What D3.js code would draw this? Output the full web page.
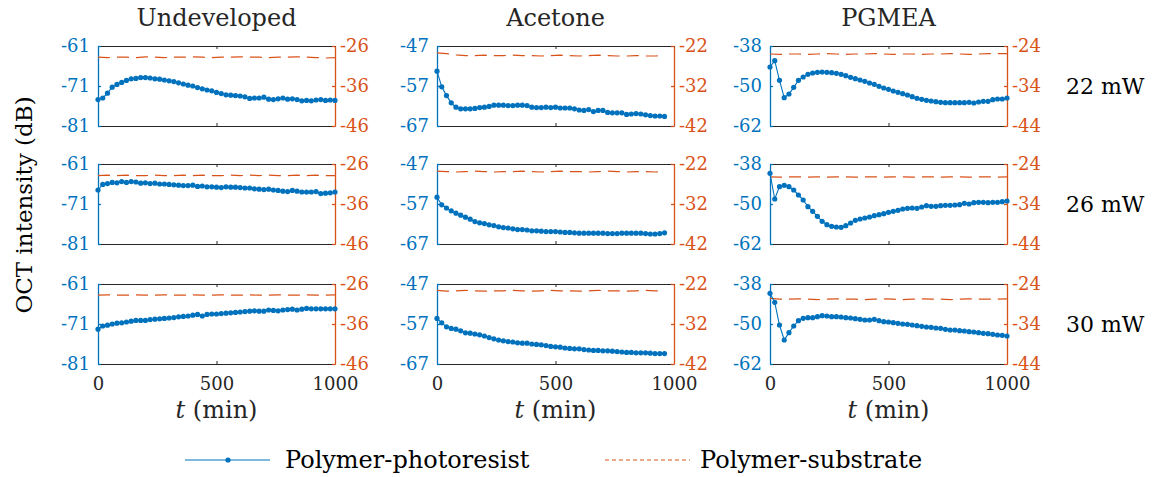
<!DOCTYPE html>
<html>
<head>
<meta charset="utf-8">
<script src="https://cdn.jsdelivr.net/npm/d3@7"></script>
<style>
  body { margin: 0; background: #fff; }
  text { font-family: "DejaVu Serif", serif; }
</style>
</head>
<body>
<svg id="chart" width="1170" height="477"></svg>
<script>
// sampling times (min)
const timeFull = [0, 20, 40, 60, 80, 100, 120, 140, 160, 180, 200, 220, 240, 260, 280, 300, 320, 340, 360, 380, 400, 420, 440, 460, 480, 500, 520, 540, 560, 580, 600, 620, 640, 660, 680, 700, 720, 740, 760, 780, 800, 820, 840, 860, 880, 900, 920, 940, 960, 980, 1000]
const timeAcetone = [0, 20, 40, 60, 80, 100, 120, 140, 160, 180, 200, 220, 240, 260, 280, 300, 320, 340, 360, 380, 400, 420, 440, 460, 480, 500, 520, 540, 560, 580, 600, 620, 640, 660, 680, 700, 720, 740, 760, 780, 800, 820, 840, 860, 880, 900, 920, 940, 960]
const timeSub = [0, 40, 80, 120, 160, 200, 240, 280, 320, 360, 400, 440, 480, 520, 560, 600, 640, 680, 720, 760, 800, 840, 880, 920, 960, 1000]
const timeSubAcetone = [0, 40, 80, 120, 160, 200, 240, 280, 320, 360, 400, 440, 480, 520, 560, 600, 640, 680, 720, 760, 800, 840, 880, 920, 960]

const solvents = ['Undeveloped', 'Acetone', 'PGMEA']
const powers = ['22 mW', '26 mW', '30 mW']
const leftTicks = [[-81, -71, -61], [-67, -57, -47], [-62, -50, -38]]
const rightTicks = [[-46, -36, -26], [-42, -32, -22], [-44, -34, -24]]
const xTicks = [0, 500, 1000]
const legendLabels = ['Polymer-photoresist', 'Polymer-substrate']

// polymer-photoresist interface (dB)
const undeveloped22 = [-74.4, -74.0, -72.8, -71.3, -70.6, -70.1, -69.6, -69.2, -69.1, -68.9, -68.9, -69.0, -69.2, -69.3, -69.5, -69.7, -69.9, -70.2, -70.5, -70.8, -71.0, -71.4, -71.7, -72.0, -72.2, -72.6, -72.9, -73.2, -73.3, -73.4, -73.5, -73.7, -74.1, -74.0, -74.0, -73.8, -74.3, -74.4, -74.2, -74.0, -74.3, -74.2, -74.4, -74.7, -74.6, -74.7, -74.5, -74.4, -74.6, -74.5, -74.6]
const acetone22 = [-53.3, -57.2, -59.4, -61.2, -62.3, -62.7, -62.7, -62.7, -62.6, -62.4, -62.3, -62.1, -61.8, -61.8, -61.8, -61.9, -61.9, -61.8, -61.8, -61.9, -62.3, -62.4, -62.4, -62.3, -62.4, -62.3, -62.5, -62.5, -62.5, -62.7, -63.0, -63.1, -62.9, -63.4, -63.1, -63.1, -63.6, -63.7, -63.7, -63.7, -64.1, -64.0, -63.9, -64.0, -64.2, -64.4, -64.5, -64.5, -64.6]
const pgmea22 = [-44.3, -42.4, -48.3, -53.5, -52.4, -50.4, -48.3, -47.3, -46.5, -46.1, -45.9, -45.8, -45.9, -46.0, -46.2, -46.5, -46.9, -47.4, -47.8, -48.2, -48.6, -49.1, -49.5, -50.1, -50.6, -51.0, -51.5, -51.9, -52.3, -52.7, -53.2, -53.7, -54.0, -54.3, -54.5, -54.7, -54.9, -55.0, -55.0, -55.0, -55.0, -55.0, -54.9, -55.1, -54.8, -54.6, -54.6, -54.1, -53.9, -53.9, -53.6]
const undeveloped26 = [-67.5, -66.1, -65.9, -65.6, -65.7, -65.4, -65.6, -65.4, -65.5, -65.8, -65.7, -65.9, -65.8, -66.0, -66.0, -66.1, -66.2, -66.3, -66.4, -66.4, -66.3, -66.6, -66.5, -66.7, -66.7, -66.8, -66.9, -66.7, -66.8, -66.8, -66.9, -67.0, -67.0, -67.2, -67.3, -67.4, -67.3, -67.5, -67.6, -67.8, -67.9, -67.6, -67.8, -68.0, -68.0, -68.0, -67.9, -68.4, -68.3, -68.2, -68.0]
const acetone26 = [-55.3, -57.2, -58.0, -58.7, -59.3, -59.8, -60.3, -60.8, -61.4, -61.7, -61.9, -62.2, -62.4, -62.7, -62.9, -63.0, -63.2, -63.4, -63.4, -63.5, -63.7, -63.7, -63.8, -63.9, -63.9, -63.9, -64.0, -64.1, -64.1, -64.2, -64.3, -64.3, -64.3, -64.3, -64.3, -64.3, -64.4, -64.4, -64.4, -64.3, -64.3, -64.3, -64.3, -64.3, -64.4, -64.5, -64.5, -64.4, -64.2]
const pgmea26 = [-40.8, -48.5, -44.8, -44.4, -44.8, -45.8, -47.3, -48.8, -50.8, -52.2, -53.7, -55.2, -56.2, -56.7, -56.9, -57.0, -56.5, -55.7, -54.9, -54.5, -54.2, -53.9, -53.5, -53.2, -52.9, -52.5, -52.2, -51.9, -51.5, -51.3, -51.2, -51.3, -50.9, -50.5, -50.7, -50.7, -50.5, -50.4, -50.4, -50.3, -50.2, -49.8, -50.0, -49.6, -49.5, -49.5, -49.6, -49.5, -49.5, -49.3, -49.1]
const undeveloped30 = [-72.3, -71.5, -71.3, -71.0, -70.8, -70.7, -70.5, -70.3, -70.1, -70.1, -70.1, -69.9, -69.8, -69.7, -69.6, -69.5, -69.4, -69.2, -69.1, -69.0, -68.8, -68.6, -69.0, -68.6, -68.5, -68.5, -68.4, -68.3, -68.2, -68.1, -68.0, -67.9, -67.8, -67.7, -67.8, -67.8, -67.5, -67.6, -67.7, -67.5, -67.4, -67.3, -67.5, -67.3, -67.1, -67.2, -67.2, -67.2, -67.2, -67.2, -67.2]
const acetone30 = [-55.6, -56.7, -57.7, -58.1, -58.3, -58.7, -59.2, -59.3, -59.5, -59.7, -60.0, -60.4, -60.7, -61.0, -61.2, -61.4, -61.5, -61.7, -61.8, -61.8, -62.0, -62.1, -62.2, -62.4, -62.6, -62.7, -62.8, -63.0, -63.1, -63.2, -63.2, -63.4, -63.5, -63.6, -63.6, -63.7, -63.7, -63.8, -63.9, -64.0, -64.1, -64.1, -64.2, -64.2, -64.2, -64.3, -64.4, -64.4, -64.4]
const pgmea30 = [-40.8, -43.5, -50.3, -54.8, -52.6, -50.6, -49.0, -48.3, -48.1, -48.1, -47.8, -47.5, -47.6, -47.8, -47.8, -47.9, -48.1, -48.2, -48.4, -48.6, -48.8, -48.8, -48.6, -49.0, -49.3, -49.4, -49.6, -49.8, -50.0, -50.1, -50.3, -50.5, -50.7, -50.9, -51.0, -51.2, -51.3, -51.6, -51.8, -51.8, -52.0, -52.1, -52.3, -52.4, -52.6, -52.8, -52.9, -53.1, -53.3, -53.4, -53.6]

// polymer-substrate interface (dB), right axis
const undevelopedSub22 = [-28.8, -28.9, -28.8, -28.8, -28.9, -28.7, -28.8, -28.9, -28.8, -28.8, -28.7, -28.8, -28.9, -28.8, -28.8, -28.7, -28.8, -28.8, -28.9, -28.8, -28.8, -28.7, -28.8, -28.9, -29.0, -28.9]
const acetoneSub22 = [-23.7, -23.9, -24.2, -24.4, -24.4, -24.3, -24.4, -24.4, -24.3, -24.4, -24.4, -24.5, -24.4, -24.3, -24.4, -24.5, -24.4, -24.3, -24.4, -24.5, -24.5, -24.4, -24.5, -24.5, -24.4]
const pgmeaSub22 = [-26.0, -26.1, -26.0, -26.0, -26.1, -26.0, -25.9, -26.0, -26.1, -26.0, -26.0, -25.9, -26.0, -26.1, -26.0, -26.0, -26.1, -26.0, -26.0, -25.9, -26.0, -26.1, -26.0, -25.9, -25.9, -25.9]
const undevelopedSub26 = [-28.9, -28.8, -28.9, -28.8, -28.9, -28.9, -28.8, -28.9, -28.9, -28.8, -28.9, -28.8, -28.9, -28.9, -28.8, -28.9, -28.8, -28.9, -28.8, -28.9, -28.9, -28.8, -28.9, -28.8, -28.9, -28.9]
const acetoneSub26 = [-23.8, -23.9, -24.0, -23.9, -23.8, -23.9, -24.0, -23.9, -23.9, -23.8, -23.9, -24.0, -23.9, -23.8, -23.9, -23.9, -24.0, -23.9, -23.8, -23.9, -24.0, -23.9, -23.9, -24.0, -23.9]
const pgmeaSub26 = [-27.2, -27.3, -27.2, -27.2, -27.3, -27.2, -27.3, -27.2, -27.2, -27.3, -27.2, -27.2, -27.3, -27.2, -27.2, -27.3, -27.2, -27.2, -27.3, -27.2, -27.2, -27.3, -27.2, -27.2, -27.3, -27.2]
const undevelopedSub30 = [-28.8, -28.7, -28.8, -28.8, -28.7, -28.8, -28.8, -28.7, -28.8, -28.8, -28.7, -28.8, -28.8, -28.7, -28.8, -28.8, -28.7, -28.8, -28.8, -28.7, -28.8, -28.8, -28.7, -28.8, -28.8, -28.7]
const acetoneSub30 = [-23.6, -23.8, -23.7, -23.6, -23.7, -23.8, -23.7, -23.7, -23.6, -23.7, -23.8, -23.7, -23.6, -23.7, -23.7, -23.8, -23.7, -23.6, -23.7, -23.7, -23.8, -23.7, -23.6, -23.7, -23.7]
const pgmeaSub30 = [-27.6, -27.8, -27.8, -27.7, -27.8, -27.9, -27.8, -27.7, -27.8, -27.8, -27.9, -27.8, -27.7, -27.8, -27.9, -27.8, -27.7, -27.8, -27.8, -27.9, -27.8, -27.7, -27.8, -27.8, -27.8, -27.7]

const BLUE = '#0072BD'
const ORANGE = '#D95319'
const DARK = '#262626'

const colX = [98, 437, 770]
const rowY = [46, 164, 284]
const panelW = 237
const panelH = 80

const svg = d3.select('#chart')

// plain labels: hyphen minus, no thousands separator
const plain = d => String(d)

// one entry per panel, row = power, col = solvent
const resistByRow = [[undeveloped22, acetone22, pgmea22], [undeveloped26, acetone26, pgmea26], [undeveloped30, acetone30, pgmea30]]
const substrateByRow = [[undevelopedSub22, acetoneSub22, pgmeaSub22], [undevelopedSub26, acetoneSub26, pgmeaSub26], [undevelopedSub30, acetoneSub30, pgmeaSub30]]

/**
 * Draws a single panel with its two y axes.
 *
 * @param {number} row The power index
 * @param {number} col The solvent index
 */
function drawPanel (row, col) {
  const g = svg.append('g').attr('transform', `translate(${colX[col]},${rowY[row]})`)
  const isAcetone = col === 1
  const t = isAcetone ? timeAcetone : timeFull
  const tSub = isAcetone ? timeSubAcetone : timeSub

  const x = d3.scaleLinear().domain([0, 1000]).range([0, panelW])
  const yLeft = d3.scaleLinear().domain([leftTicks[col][0], leftTicks[col][2]]).range([panelH, 0])
  const yRight = d3.scaleLinear().domain([rightTicks[col][0], rightTicks[col][2]]).range([panelH, 0])

  // top and bottom edges with inward ticks
  g.append('g')
    .call(d3.axisTop(x).tickValues(xTicks).tickSizeInner(-3).tickSizeOuter(0).tickFormat(''))
    .call(a => a.selectAll('path,line').attr('stroke', DARK))

  const bottom = g.append('g')
    .attr('transform', `translate(0,${panelH})`)
    .call(d3.axisBottom(x).tickValues(xTicks).tickFormat(plain).tickSizeInner(-3).tickSizeOuter(0).tickPadding(13))
  bottom.selectAll('path,line').attr('stroke', DARK)
  bottom.selectAll('text')
    .attr('fill', DARK)
    .style('font-size', '18px')
    .style('font-family', '"DejaVu Serif", serif')
    .style('display', row === 2 ? null : 'none')

  // left axis (photoresist)
  g.append('g')
    .call(d3.axisLeft(yLeft).tickValues(leftTicks[col]).tickFormat(plain).tickSizeInner(-3).tickSizeOuter(0).tickPadding(8))
    .call(a => a.selectAll('path,line').attr('stroke', BLUE).attr('stroke-width', 1.3))
    .call(a => a.selectAll('text').attr('fill', BLUE).style('font-size', '18px').style('font-family', '"DejaVu Serif", serif'))

  // right axis (substrate)
  g.append('g')
    .attr('transform', `translate(${panelW},0)`)
    .call(d3.axisRight(yRight).tickValues(rightTicks[col]).tickFormat(plain).tickSizeInner(-3).tickSizeOuter(0).tickPadding(5))
    .call(a => a.selectAll('path,line').attr('stroke', ORANGE).attr('stroke-width', 1.3))
    .call(a => a.selectAll('text').attr('fill', ORANGE).style('font-size', '18px').style('font-family', '"DejaVu Serif", serif'))

  // substrate dashed line
  const sub = substrateByRow[row][col]
  g.append('path')
    .datum(tSub.map((d, i) => [d, sub[i]]))
    .attr('fill', 'none')
    .attr('stroke', ORANGE)
    .attr('stroke-width', 1.2)
    .attr('stroke-dasharray', '12,7')
    .attr('d', d3.line().x(d => x(d[0])).y(d => yRight(d[1])))

  // photoresist line with dots
  const res = resistByRow[row][col]
  const pts = t.map((d, i) => [d, res[i]])
  g.append('path')
    .datum(pts)
    .attr('fill', 'none')
    .attr('stroke', BLUE)
    .attr('stroke-width', 1.1)
    .attr('d', d3.line().x(d => x(d[0])).y(d => yLeft(d[1])))

  g.selectAll('circle.dot')
    .data(pts)
    .enter()
    .append('circle')
    .attr('class', 'dot')
    .attr('cx', d => x(d[0]))
    .attr('cy', d => yLeft(d[1]))
    .attr('r', 2.6)
    .attr('fill', BLUE)

  if (row === 2) {
    const lab = g.append('text')
      .attr('x', panelW / 2)
      .attr('y', panelH + 54)
      .attr('text-anchor', 'middle')
      .attr('fill', DARK)
      .style('font-size', '24px')
    lab.append('tspan').attr('font-style', 'italic').text('t')
    lab.append('tspan').text(' (min)')
  }
}

for (let r = 0; r < powers.length; r++) {
  for (let c = 0; c < solvents.length; c++) drawPanel(r, c)
}

// column titles
svg.selectAll('text.title')
  .data(solvents)
  .enter()
  .append('text')
  .attr('class', 'title')
  .attr('x', (d, i) => colX[i] + panelW / 2)
  .attr('y', 26)
  .attr('text-anchor', 'middle')
  .attr('fill', DARK)
  .style('font-size', '24px')
  .text(d => d)

// row labels
svg.selectAll('text.power')
  .data(powers)
  .enter()
  .append('text')
  .attr('class', 'power')
  .attr('x', 1066)
  .attr('y', (d, i) => rowY[i] + panelH / 2 + 8)
  .attr('fill', '#000')
  .style('font-size', '22px')
  .text(d => d)

// y axis title
svg.append('text')
  .attr('transform', `translate(32,${(rowY[0] + rowY[2] + panelH) / 2}) rotate(-90)`)
  .attr('text-anchor', 'middle')
  .attr('fill', '#000')
  .style('font-size', '23px')
  .text('OCT intensity (dB)')

// legend
const legend = svg.append('g')
legend.append('line')
  .attr('x1', 185).attr('x2', 270).attr('y1', 460).attr('y2', 460)
  .attr('stroke', BLUE).attr('stroke-width', 1.2)
legend.append('circle')
  .attr('cx', 228).attr('cy', 460).attr('r', 2.6).attr('fill', BLUE)
legend.append('text')
  .attr('x', 285).attr('y', 468)
  .style('font-size', '24px')
  .attr('fill', '#000')
  .text(legendLabels[0])
legend.append('line')
  .attr('x1', 605).attr('x2', 690).attr('y1', 460).attr('y2', 460)
  .attr('stroke', ORANGE).attr('stroke-width', 1.1)
  .attr('stroke-dasharray', '4,3')
legend.append('text')
  .attr('x', 700).attr('y', 468)
  .style('font-size', '24px')
  .attr('fill', '#000')
  .text(legendLabels[1])
</script>
</body>
</html>
